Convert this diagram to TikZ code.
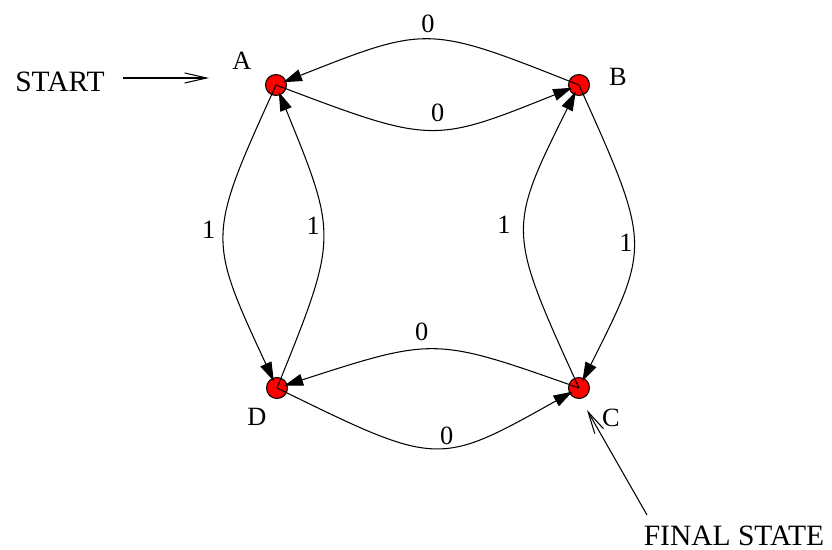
\documentclass[tikz,border=0pt]{standalone}
\usepackage{fontspec}
\setmainfont{Liberation Serif}
\usetikzlibrary{arrows.meta}

\begin{document}
\begin{tikzpicture}[x=0.02cm, y=-0.02cm,
  state/.style={circle, draw, fill=red, minimum size=4.2mm, inner sep=0pt, line width=0.6pt},
  edge/.style={-{Triangle[length=3.8mm, width=2.4mm]}, line width=0.6pt, shorten >=1.5mm},
  lbl/.style={font=\fontsize{15}{18}\selectfont, inner sep=1pt},
  txt/.style={font=\fontsize{16.8}{20}\selectfont, inner sep=0pt},
  open/.style={-{Straight Barb[length=4.4mm, width=2mm]}, line width=0.6pt}]
\useasboundingbox (0,0) rectangle (832,550);
% states
\node[state] (A) at (276,85) {};
\node[state] (B) at (579,85) {};
\node[state] (C) at (579,388) {};
\node[state] (D) at (277,388) {};
\node[lbl] (nameA) at (242,61) {A};
\node[lbl] (nameB) at (618,77) {B};
\node[lbl] (nameC) at (611,418) {C};
\node[lbl] (nameD) at (257,417) {D};
% transitions
\draw[edge] (B.center) .. controls (428,25) .. (A.center) node[lbl, pos=0.5, above=3pt] (eBA) {0};
\draw[edge] (A.center) .. controls (432,144) .. (B.center) node[lbl, pos=0.53, above=3pt] (eAB) {0};
\draw[edge] (A.center) .. controls (207,237) .. (D.center) node[lbl, pos=0.47, left=4pt] (eAD) {1};
\draw[edge] (D.center) .. controls (338,237) .. (A.center) node[lbl, pos=0.55, left=0pt] (eDA) {1};
\draw[edge] (C.center) .. controls (507,230) .. (B.center) node[lbl, pos=0.53, left=7pt] (eCB) {1};
\draw[edge] (B.center) .. controls (651,245) .. (C.center) node[lbl, pos=0.5, left=-1pt] (eBC) {1};
\draw[edge] (C.center) .. controls (435,337) .. (D.center) node[lbl, pos=0.55, above=4pt] (eCD) {0};
\draw[edge] (D.center) .. controls (438,467) .. (C.center) node[lbl, pos=0.55, above=0pt] (eDC) {0};
% start and final markers
\node[txt] (start) at (60,82) {START};
\node[txt] (final) at (734,536) {FINAL STATE};
\coordinate (startTip) at (209,78);
\coordinate (finalTail) at (647,515);
\coordinate (finalTip) at (587,410);
\draw[open, shorten <=3.6mm] (start.east |- startTip) -- (startTip);
\draw[open] (finalTail) -- (finalTip);
\end{tikzpicture}
\end{document}
